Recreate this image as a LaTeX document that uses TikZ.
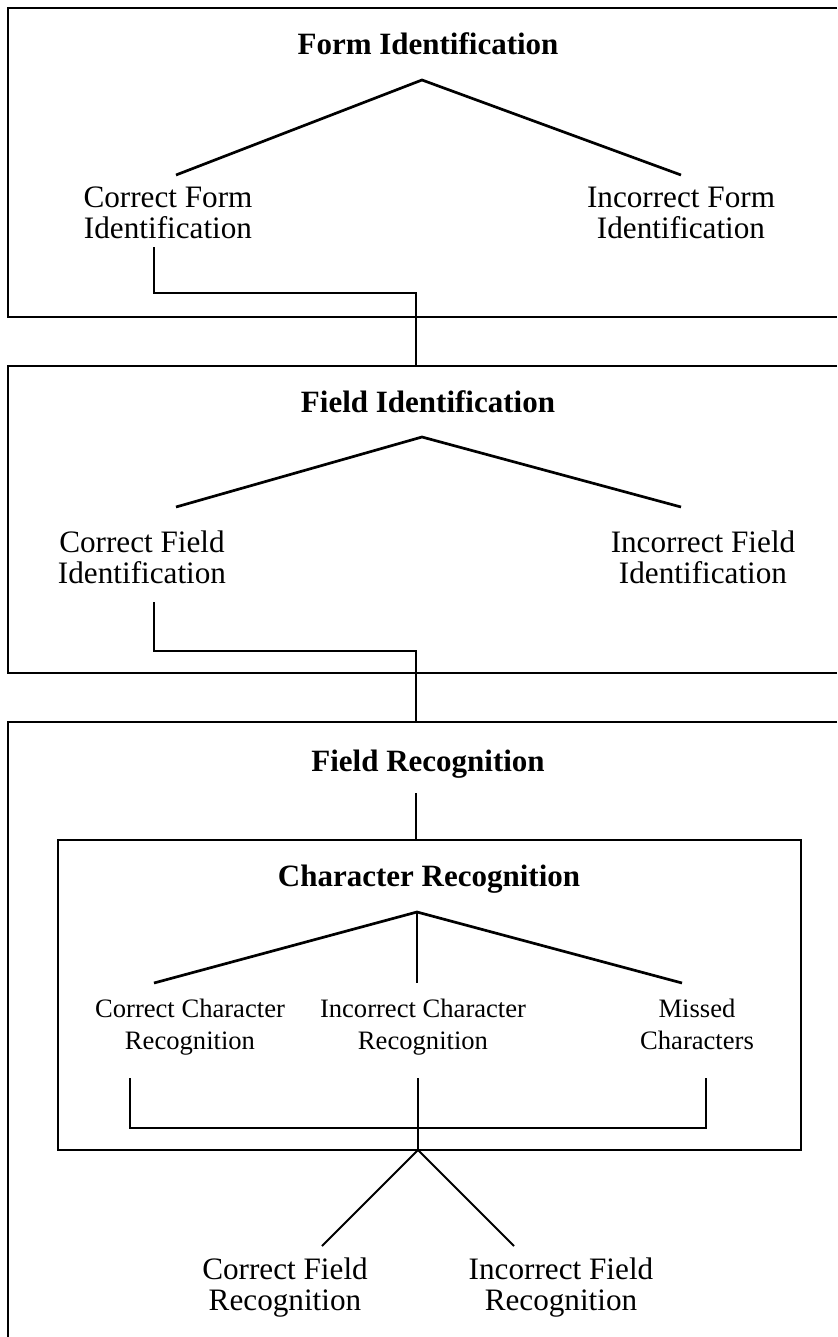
\documentclass[tikz,border=0pt]{standalone}
\usepackage{fontspec}
\setmainfont{Liberation Serif}
\usetikzlibrary{positioning}

\begin{document}
\begin{tikzpicture}[x=0.5pt, y=-0.5pt,
    head/.style={font=\fontsize{15.5}{16}\selectfont\bfseries, anchor=base, inner sep=0pt},
    leaf/.style={font=\fontsize{15.6}{15.5}\selectfont, align=center, anchor=base, inner sep=0pt},
    small leaf/.style={font=\fontsize{13.3}{16}\selectfont, align=center, anchor=base, inner sep=0pt},
    frame/.style={line width=1.35pt},
    branch/.style={line width=1.35pt},
    link/.style={line width=1pt}]

    \useasboundingbox[fill=white] (0,0) rectangle (837,1337);

    % Frames (open on the right)
    \draw[frame] (837,8) -| (8,317) -- (837,317);
    \draw[frame] (837,366) -| (8,673) -- (837,673);
    \draw[frame] (837,722) -| (8,1337);
    \draw[frame] (58,840) rectangle (801,1150);

    % Nodes (base = last line)
    \node[head] (formid) at (428,55) {Form Identification};
    \node[leaf] (cform) at (168,238) {Correct Form\\Identification};
    \node[leaf] (iform) at (681,238) {Incorrect Form\\Identification};

    \node[head] (fieldid) at (428,412) {Field Identification};
    \node[leaf] (cfield) at (142,583) {Correct Field\\Identification};
    \node[leaf] (ifield) at (703,583) {Incorrect Field\\Identification};

    \node[head] (fieldrec) at (428,771) {Field Recognition};
    \node[head] (charrec) at (429,886) {Character Recognition};
    \node[small leaf] (cchar) at (190,1049) {Correct Character\\Recognition};
    \node[small leaf] (ichar) at (423,1049) {Incorrect Character\\Recognition};
    \node[small leaf] (missed) at (697,1049) {Missed\\Characters};
    \node[leaf] (cfrec) at (285,1310) {Correct Field\\Recognition};
    \node[leaf] (ifrec) at (561,1310) {Incorrect Field\\Recognition};

    % Junctions
    \coordinate (formapex) at (422,80);
    \coordinate (cformtop) at (176,175);
    \coordinate (iformtop) at (681,175);
    \coordinate (cformbot) at (154,247);
    \coordinate (fieldapex) at (422,437);
    \coordinate (cfieldtop) at (176,507);
    \coordinate (ifieldtop) at (681,507);
    \coordinate (cfieldbot) at (154,602);
    \coordinate (recbot) at (416,793);
    \coordinate (charapex) at (417,912);
    \coordinate (cchartop) at (154,983);
    \coordinate (ichartop) at (417,983);
    \coordinate (missedtop) at (682,983);
    \coordinate (ccharbot) at (130,1078);
    \coordinate (icharbot) at (418,1078);
    \coordinate (missedbot) at (706,1078);
    \coordinate (charout) at (418,1150);
    \coordinate (cfrectop) at (322,1246);
    \coordinate (ifrectop) at (514,1246);

    % Branches
    \draw[branch] (cformtop) -- (formapex) -- (iformtop);
    \draw[branch] (cfieldtop) -- (fieldapex) -- (ifieldtop);
    \draw[branch] (cchartop) -- (charapex) -- (missedtop);
    \draw[link] (charapex) -- (ichartop);

    % Links between stages
    \draw[link] (cformbot) -- (154,293) -| (416,366);
    \draw[link] (cfieldbot) -- (154,651) -| (416,722);
    \draw[link] (recbot) -- (416,840);
    \draw[link] (ccharbot) |- (missedbot |- 0,1128) -- (missedbot);
    \draw[link] (icharbot) -- (charout);
    \draw[link] (cfrectop) -- (charout) -- (ifrectop);

\end{tikzpicture}
\end{document}
